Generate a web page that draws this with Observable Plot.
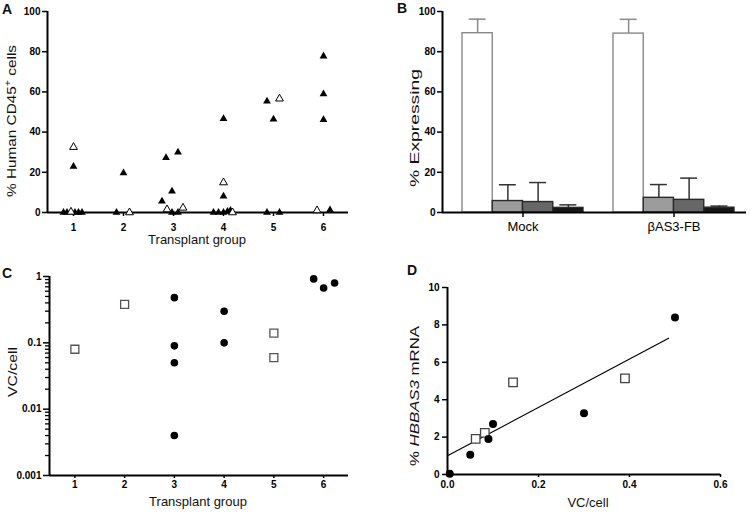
<!DOCTYPE html>
<html><head><meta charset="utf-8">
<script src="https://cdn.jsdelivr.net/npm/d3@7"></script>
<script src="https://cdn.jsdelivr.net/npm/@observablehq/plot@0.6"></script>
<style>
body{margin:0;background:#fff}
#fig{position:relative;width:752px;height:513px;background:#fff;font-family:"Liberation Sans",Arial,sans-serif}
#fig svg{position:absolute}
</style>
</head><body><div id="fig"></div>
<script>
// ---------- Panel A: % human CD45+ cells by transplant group ----------
const groupTicks = [1, 2, 3, 4, 5, 6];
const pctTicks = [0, 20, 40, 60, 80, 100];
const filledAx = [0.8, 0.87, 1.03, 1.1, 1.17, 1.0, 1.86, 2.0, 2.77, 2.85, 2.97, 2.97, 3.09, 3.09, 3.8, 3.9, 4.0, 4.0, 4.0, 4.08, 4.14, 4.87, 4.87, 5.0, 5.12, 6.0, 6.0, 6.0, 6.13];
const filledAy = [0, 0, 0, 0, 0, 22.9, 0, 19.7, 5.6, 27.2, 10.6, 0, 30.0, 0, 0, 0, 0, 8.1, 46.6, 0.5, 1.0, 55.4, 0, 46.4, 0, 77.8, 59.0, 46.1, 1.3];
const openAx = [1.0, 0.95, 2.12, 2.87, 3.19, 4.0, 4.18, 5.12, 5.87];
const openAy = [32.5, 0.3, 0, 1.5, 2.3, 14.9, 0, 56.6, 1.0];

// ---------- Panel B: % expressing ----------
const bGroups = ["Mock", "βAS3-FB"];
const bSeries = ["Series 1", "Series 2", "Series 3", "Series 4"];
const mockMean = [89.2, 5.7, 5.2, 2.3];
const mockUpper = [96.2, 13.8, 14.9, 3.8];
const fbMean = [89.0, 7.3, 6.3, 2.4];
const fbUpper = [96.1, 13.9, 17.1, 3.2];

// ---------- Panel C: VC/cell by transplant group ----------
const vcTicks = [0.001, 0.01, 0.1, 1];
const cSquareX = [1, 2, 5, 5];
const cSquareY = [0.08, 0.38, 0.14, 0.06];
const cCircleX = [3, 3, 3, 3, 4, 4, 5.8, 6.0, 6.22];
const cCircleY = [0.48, 0.09, 0.05, 0.004, 0.3, 0.1, 0.92, 0.67, 0.8];

// ---------- Panel D: % HBBAS3 mRNA vs VC/cell ----------
const dxTicks = [0, 0.2, 0.4, 0.6];
const dyTicks = [0, 2, 4, 6, 8, 10];
const dCircleX = [0.005, 0.05, 0.09, 0.1, 0.3, 0.5];
const dCircleY = [0.04, 1.05, 1.9, 2.7, 3.27, 8.4];
const dSquareX = [0.062, 0.082, 0.144, 0.39];
const dSquareY = [1.9, 2.23, 4.93, 5.14];
const fitX = [0, 0.486];
const fitY = [1.0, 7.29];

const font = "Liberation Sans, Arial, sans-serif";
const baseStyle = {fontFamily: font, background: "transparent", overflow: "visible", color: "#000"};
const fig = document.getElementById("fig");
function place(svg, left, top) { svg.style.left = left + "px"; svg.style.top = top + "px"; fig.appendChild(svg); }
const tickText = {fontSize: 10, fontWeight: "bold", strokeWidth: 1.5, label: null};
const intFmt = d3.format("d");

// Panel A
const xDomA = [0.48, 6.5];
const filledA = filledAx.map((x, i) => ({group: x, pct: filledAy[i]}));
const openA = openAx.map((x, i) => ({group: x, pct: openAy[i]}));
place(Plot.plot({
  width: 376, height: 250, marginLeft: 47, marginRight: 28, marginTop: 11, marginBottom: 38,
  style: baseStyle,
  x: {domain: xDomA}, y: {domain: [0, 100]},
  marks: [
    Plot.axisY({...tickText, ticks: pctTicks, tickSize: 5, tickPadding: 2}),
    Plot.axisX({...tickText, ticks: groupTicks, tickFormat: intFmt, tickSize: 4, tickPadding: 7}),
    Plot.ruleY([0], {strokeWidth: 2}),
    Plot.ruleX([xDomA[0]], {strokeWidth: 2}),
    Plot.dot(filledA, {x: "group", y: "pct", symbol: "triangle", r: 2.9, fill: "#000", stroke: "none"}),
    Plot.dot(openA, {x: "group", y: "pct", symbol: "triangle", r: 2.9, fill: "#fff", stroke: "#000", strokeWidth: 1})
  ]
}), 0, 0);

// Panel B  (nested band layout computed with d3 band scales, drawn on a linear Plot x scale)
const outer = d3.scaleBand().domain(bGroups).range([0, 1]).paddingInner(0.1987).paddingOuter(0.106).align(0.625);
const inner = d3.scaleBand().domain(bSeries).range([0, outer.bandwidth()]).padding(0);
const capHalf = inner.bandwidth() * 0.28;
const bMeans = [mockMean, fbMean], bUppers = [mockUpper, fbUpper];
const barRows = bGroups.flatMap((g, gi) => bSeries.map((s, si) => {
  const x1 = outer(g) + inner(s), x2 = x1 + inner.bandwidth(), xc = (x1 + x2) / 2;
  return {group: g, series: s, mean: bMeans[gi][si], upper: bUppers[gi][si], x1, x2, xc, c1: xc - capHalf, c2: xc + capHalf};
}));
const groupCenters = bGroups.map(g => outer(g) + outer.bandwidth() / 2);
const centerName = new Map(groupCenters.map((c, i) => [c, bGroups[i]]));
const isFirst = d => d.series === bSeries[0];
const notFirst = d => d.series !== bSeries[0];
place(Plot.plot({
  width: 376, height: 250, marginLeft: 66, marginRight: 6, marginTop: 11, marginBottom: 38,
  style: baseStyle,
  x: {domain: [0, 1]},
  y: {domain: [0, 100]},
  color: {domain: bSeries, range: ["#ffffff", "#9c9c9c", "#676767", "#161616"]},
  marks: [
    Plot.axisY({...tickText, ticks: pctTicks, tickSize: 5, tickPadding: 2}),
    Plot.axisX({ticks: groupCenters, tickFormat: d => centerName.get(d), tickSize: 5, tickPadding: 4, fontSize: 13, strokeWidth: 1.5, label: null}),
    Plot.ruleX(barRows, {x: "xc", y1: "mean", y2: "upper", filter: isFirst, stroke: "#8a8a8a", strokeWidth: 1.5}),
    Plot.ruleY(barRows, {y: "upper", x1: "c1", x2: "c2", filter: isFirst, stroke: "#8a8a8a", strokeWidth: 1.5}),
    Plot.ruleX(barRows, {x: "xc", y1: "mean", y2: "upper", filter: notFirst, stroke: "#333", strokeWidth: 1.5}),
    Plot.ruleY(barRows, {y: "upper", x1: "c1", x2: "c2", filter: notFirst, stroke: "#333", strokeWidth: 1.5}),
    Plot.rectY(barRows, {x1: "x1", x2: "x2", y: "mean", fill: "series", filter: isFirst, stroke: "#8a8a8a", strokeWidth: 1.4}),
    Plot.rectY(barRows, {x1: "x1", x2: "x2", y: "mean", fill: "series", filter: notFirst, stroke: "#2a2a2a", strokeWidth: 1.4}),
    Plot.ruleY([0], {strokeWidth: 2}),
    Plot.ruleX([0], {strokeWidth: 2})
  ]
}), 376, 0);

// Panel C
const xDomC = [0.49, 6.5];
const minorC = [];
for (const dec of [0.001, 0.01, 0.1]) for (const m of [2, 3, 4, 5, 6, 7, 8, 9]) minorC.push(+(m * dec).toPrecision(3));
const cSquares = cSquareX.map((x, i) => ({group: x, vc: cSquareY[i]}));
const cCircles = cCircleX.map((x, i) => ({group: x, vc: cCircleY[i]}));
place(Plot.plot({
  width: 376, height: 263, marginLeft: 49, marginRight: 28, marginTop: 26, marginBottom: 38,
  style: baseStyle,
  x: {domain: xDomC}, y: {type: "log", domain: [0.001, 1]},
  marks: [
    Plot.axisY({...tickText, ticks: vcTicks, tickFormat: d => String(d), tickSize: 6, tickPadding: 2}),
    Plot.axisY({ticks: minorC, tickFormat: () => "", tickSize: 4, strokeWidth: 1.3, label: null}),
    Plot.axisX({...tickText, ticks: groupTicks, tickFormat: intFmt, tickSize: 3, tickPadding: 2}),
    Plot.ruleY([0.001], {strokeWidth: 2}),
    Plot.ruleX([xDomC[0]], {strokeWidth: 2}),
    Plot.dot(cSquares, {x: "group", y: "vc", symbol: "square", r: 4.5, fill: "#fff", stroke: "#555", strokeWidth: 1.3}),
    Plot.dot(cCircles, {x: "group", y: "vc", r: 3.8, fill: "#000", stroke: "none"})
  ]
}), 0, 250);

// Panel D
const dCircles = dCircleX.map((x, i) => ({vc: x, mrna: dCircleY[i]}));
const dSquares = dSquareX.map((x, i) => ({vc: x, mrna: dSquareY[i]}));
const fit = fitX.map((x, i) => ({vc: x, mrna: fitY[i]}));
place(Plot.plot({
  width: 376, height: 263, marginLeft: 71, marginRight: 32, marginTop: 37, marginBottom: 39,
  style: baseStyle,
  x: {domain: [0, 0.6]}, y: {domain: [0, 10]},
  marks: [
    Plot.axisY({...tickText, ticks: dyTicks, tickSize: 5, tickPadding: 3}),
    Plot.axisX({...tickText, ticks: dxTicks, tickFormat: d3.format(".1f"), tickSize: 3, tickPadding: 3}),
    Plot.ruleY([0], {strokeWidth: 2}),
    Plot.ruleX([0], {strokeWidth: 2}),
    Plot.line(fit, {x: "vc", y: "mrna", stroke: "#000", strokeWidth: 1.2}),
    Plot.dot(dSquares, {x: "vc", y: "mrna", symbol: "square", r: 4.8, fill: "#fff", stroke: "#444", strokeWidth: 1.3}),
    Plot.dot(dCircles, {x: "vc", y: "mrna", r: 4, fill: "#000", stroke: "none"})
  ]
}), 376, 250);

// ---------- Overlay text: panel letters and axis titles ----------
const ov = d3.select(fig).append("svg").attr("width", 752).attr("height", 513)
  .style("left", "0px").style("top", "0px").attr("font-family", font);
function addText(x, y, parts, {rotate = false, size = 13, weight = "normal", anchor = "middle", length = null} = {}) {
  const t = ov.append("text")
    .attr("transform", `translate(${x},${y})` + (rotate ? " rotate(-90)" : ""))
    .attr("text-anchor", anchor).attr("font-size", size).attr("font-weight", weight).attr("fill", "#111");
  let shifted = false;
  for (const p of parts) {
    const s = t.append("tspan").text(p.t);
    if (p.italic) s.attr("font-style", "italic");
    if (p.sup) { s.attr("font-size", size * 0.7).attr("dy", -size * 0.4); shifted = true; }
    else if (shifted) { s.attr("dy", size * 0.4); shifted = false; }
  }
  if (length) t.attr("textLength", length).attr("lengthAdjust", "spacingAndGlyphs");
}
const letter = {size: 14, weight: "bold", anchor: "start"};
addText(2, 14, [{t: "A"}], letter);
addText(397, 13, [{t: "B"}], letter);
addText(2, 278, [{t: "C"}], letter);
addText(407, 275, [{t: "D"}], letter);

addText(197, 244, [{t: "Transplant group"}]);
addText(198, 506, [{t: "Transplant group"}]);
addText(588, 507, [{t: "VC/cell"}]);
addText(16, 121, [{t: "% Human CD45"}, {t: "+", sup: true}, {t: " cells"}], {rotate: true, length: 152});
addText(419, 128, [{t: "% Expressing"}], {rotate: true, length: 118});
addText(17, 372, [{t: "VC/cell"}], {rotate: true, length: 50});
addText(419, 396, [{t: "% "}, {t: "HBBAS3", italic: true}, {t: " mRNA"}], {rotate: true, length: 140});
</script></body></html>
